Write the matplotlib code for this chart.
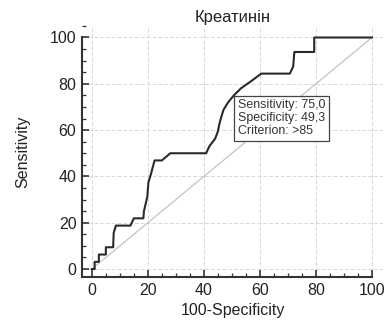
import matplotlib
matplotlib.use("Agg")
import matplotlib.pyplot as plt
from matplotlib.ticker import MultipleLocator

plt.rcParams['font.family'] = ['Liberation Sans', 'DejaVu Sans']

# ROC curve (100-Specificity, Sensitivity)
fpr = [0, 1.0, 1.0, 2.5, 2.5, 5.0, 5.0, 7.6, 7.8, 8.6, 13.8, 15.0, 18.4, 18.6,
       19.2, 19.8, 20.2, 21.0, 22.4, 25.0, 28.0, 40.8, 42.0, 44.0, 45.0, 45.5,
       46.2, 47.0, 48.6, 50.7, 53.3, 57.0, 60.5, 70.7, 71.9, 72.3, 79.4, 79.4, 100]
tpr = [0, 0, 3.1, 3.1, 6.25, 6.25, 9.4, 9.4, 15.6, 18.75, 18.75, 21.9, 21.9, 25.0,
       28.1, 31.25, 37.5, 40.6, 46.9, 46.9, 50.0, 50.0, 53.1, 56.25, 59.4, 62.5,
       65.6, 68.75, 71.9, 75.0, 78.1, 81.25, 84.4, 84.4, 87.5, 93.75, 93.75, 100, 100]

crit_x = 50.7
crit_y = 75.0
box_text = "Sensitivity: 75,0\nSpecificity: 49,3\nCriterion: >85"

fig = plt.figure(figsize=(3.87, 3.2), dpi=100)
ax = fig.add_axes([0.212, 0.134, 0.778, 0.785])

lo = -3.5
ax.set_xlim(lo, 104)
ax.set_ylim(lo, 105)

ax.grid(True, color='#d8d8d8', linestyle=(0, (4, 2)), linewidth=0.7)
ax.set_axisbelow(True)

ax.plot([0, 100], [0, 100], color='#bdbdbd', linewidth=0.8)
ax.plot(fpr, tpr, color='#2a2a2a', linewidth=1.5)

ax.annotate(box_text, xy=(crit_x, crit_y), xytext=(2.8, -2.8),
            textcoords='offset points', ha='left', va='top', fontsize=8.9,
            color='#333333', linespacing=1.1,
            bbox=dict(boxstyle='square,pad=0.3', fc='white', ec='#444444', lw=0.9))

for s in ['top', 'right']:
    ax.spines[s].set_visible(False)
ax.spines['left'].set_bounds(lo, 100)
ax.spines['bottom'].set_bounds(lo, 100)
for s in ['left', 'bottom']:
    ax.spines[s].set_linewidth(1.5)
    ax.spines[s].set_color('#333333')

ax.xaxis.set_major_locator(MultipleLocator(20))
ax.xaxis.set_minor_locator(MultipleLocator(5))
ax.yaxis.set_major_locator(MultipleLocator(20))
ax.yaxis.set_minor_locator(MultipleLocator(5))
ax.tick_params(which='major', direction='in', length=5, width=1.2,
               color='#333333', labelsize=11.5, labelcolor='#222222', pad=4)
ax.tick_params(which='minor', direction='in', length=3, width=0.9, color='#333333')

ax.set_xlabel("100-Specificity", fontsize=11.5, color='#222222', labelpad=4)
ax.set_ylabel("Sensitivity", fontsize=11.5, color='#222222', labelpad=14)
ax.set_title("Креатинін", fontsize=12, color='#222222', pad=3)

fig.savefig("out.png", dpi=100)
